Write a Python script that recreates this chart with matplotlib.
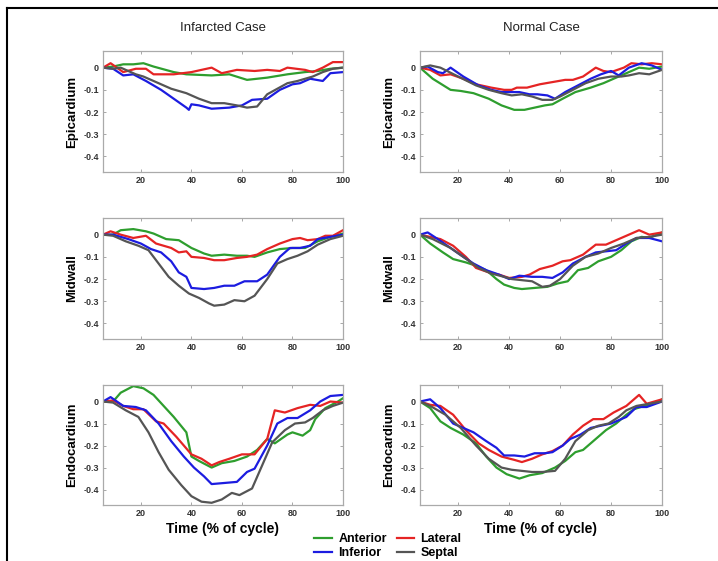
import matplotlib
matplotlib.use("Agg")
import matplotlib.pyplot as plt
from matplotlib.lines import Line2D

plt.rcParams['font.family'] = ['Liberation Sans', 'DejaVu Sans']

# region names and series
regions = ["Epicardium", "Midwall", "Endocardium"]
segments = ["Anterior", "Inferior", "Lateral", "Septal"]
colors = {"Anterior": "#2e9e2e", "Inferior": "#1c1ce0", "Lateral": "#e52424", "Septal": "#555555"}

# ---- Infarcted case ----
epi_inf = {
    "Anterior": ([5, 9, 13, 17, 21, 25, 33, 38, 48, 55, 62, 70, 78, 85, 90, 95, 100],
                 [0, 0.005, 0.015, 0.015, 0.02, 0.005, -0.02, -0.03, -0.035, -0.03, -0.055, -0.045, -0.03, -0.02, -0.015, -0.005, 0.0]),
    "Lateral": ([5, 8, 13, 18, 22, 25, 33, 40, 48, 52, 58, 65, 70, 75, 78, 85, 88, 92, 96, 100],
                [0, 0.02, -0.02, -0.005, -0.005, -0.03, -0.03, -0.02, 0.0, -0.025, -0.01, -0.015, -0.01, -0.015, 0.0, -0.01, -0.02, 0.0, 0.025, 0.025]),
    "Inferior": ([5, 9, 13, 17, 22, 28, 33, 38, 39, 40, 43, 48, 55, 60, 64, 70, 75, 80, 83, 87, 92, 95, 100],
                 [0, -0.005, -0.035, -0.03, -0.06, -0.1, -0.14, -0.18, -0.19, -0.165, -0.17, -0.185, -0.18, -0.17, -0.145, -0.14, -0.1, -0.075, -0.07, -0.05, -0.06, -0.025, -0.02]),
    "Septal": ([5, 9, 12, 18, 21, 27, 32, 38, 43, 48, 53, 58, 62, 66, 70, 78, 82, 88, 92, 96, 100],
               [0, -0.005, 0.0, -0.03, -0.04, -0.07, -0.095, -0.115, -0.14, -0.16, -0.16, -0.17, -0.18, -0.175, -0.12, -0.07, -0.06, -0.04, -0.02, -0.005, 0.0]),
}
mid_inf = {
    "Anterior": ([5, 9, 12, 17, 22, 25, 30, 35, 40, 45, 48, 53, 58, 62, 65, 70, 75, 80, 85, 90, 95, 100],
                 [0, 0.0, 0.02, 0.025, 0.015, 0.005, -0.02, -0.025, -0.06, -0.085, -0.095, -0.09, -0.095, -0.095, -0.1, -0.08, -0.065, -0.06, -0.06, -0.03, -0.01, 0.005]),
    "Lateral": ([5, 8, 12, 17, 22, 26, 32, 35, 38, 40, 45, 49, 53, 58, 62, 66, 70, 75, 80, 83, 86, 90, 93, 96, 100],
                [0, 0.015, 0.0, -0.015, -0.005, -0.04, -0.06, -0.08, -0.075, -0.1, -0.105, -0.115, -0.115, -0.105, -0.1, -0.09, -0.065, -0.04, -0.02, -0.015, -0.025, -0.02, -0.005, -0.005, 0.02]),
    "Inferior": ([5, 9, 15, 20, 24, 28, 32, 35, 38, 40, 45, 49, 53, 57, 61, 66, 70, 75, 79, 83, 87, 90, 95, 100],
                 [0, 0.0, -0.02, -0.04, -0.065, -0.08, -0.12, -0.17, -0.19, -0.24, -0.245, -0.24, -0.23, -0.23, -0.21, -0.21, -0.18, -0.1, -0.06, -0.06, -0.05, -0.02, -0.01, 0.0]),
    "Septal": ([5, 9, 14, 19, 23, 27, 31, 35, 39, 43, 47, 49, 53, 57, 61, 65, 70, 74, 78, 82, 86, 90, 95, 100],
               [0, -0.005, -0.03, -0.05, -0.07, -0.13, -0.19, -0.23, -0.265, -0.285, -0.31, -0.32, -0.315, -0.295, -0.3, -0.275, -0.2, -0.13, -0.11, -0.095, -0.075, -0.045, -0.02, -0.005]),
}
endo_inf = {
    "Anterior": ([5, 9, 12, 17, 21, 25, 29, 33, 38, 40, 43, 48, 52, 57, 62, 66, 70, 73, 78, 80, 84, 87, 89, 93, 98, 100],
                 [0, 0.0, 0.04, 0.07, 0.06, 0.03, -0.02, -0.07, -0.14, -0.25, -0.27, -0.3, -0.28, -0.27, -0.25, -0.22, -0.17, -0.19, -0.15, -0.14, -0.155, -0.13, -0.08, -0.03, 0.0, 0.015]),
    "Lateral": ([5, 9, 13, 17, 21, 26, 29, 34, 40, 44, 48, 51, 55, 60, 65, 70, 73, 77, 82, 87, 91, 95, 100],
                [0, 0.005, -0.02, -0.035, -0.035, -0.09, -0.1, -0.16, -0.24, -0.26, -0.29, -0.275, -0.26, -0.24, -0.24, -0.17, -0.04, -0.05, -0.03, -0.015, -0.02, 0.0, -0.005]),
    "Inferior": ([5, 8, 13, 18, 22, 27, 32, 37, 41, 45, 48, 53, 58, 62, 65, 70, 74, 78, 82, 87, 91, 95, 100],
                 [0, 0.02, -0.02, -0.025, -0.04, -0.1, -0.18, -0.25, -0.3, -0.34, -0.375, -0.37, -0.365, -0.32, -0.305, -0.2, -0.1, -0.075, -0.075, -0.04, 0.0, 0.025, 0.03]),
    "Septal": ([5, 9, 14, 19, 23, 27, 31, 36, 40, 44, 48, 52, 56, 59, 64, 68, 72, 77, 81, 85, 88, 92, 96, 100],
               [0, -0.005, -0.04, -0.07, -0.14, -0.23, -0.31, -0.38, -0.43, -0.455, -0.46, -0.445, -0.415, -0.425, -0.395, -0.29, -0.185, -0.13, -0.1, -0.095, -0.075, -0.04, -0.02, -0.005]),
}

# ---- Normal case ----
epi_norm = {
    "Anterior": ([5, 10, 17, 21, 26, 32, 37, 42, 46, 50, 54, 57, 61, 66, 72, 77, 83, 88, 91, 95, 100],
                 [0, -0.05, -0.1, -0.105, -0.115, -0.14, -0.17, -0.19, -0.19, -0.18, -0.17, -0.165, -0.14, -0.11, -0.09, -0.07, -0.04, -0.015, 0.0, -0.005, 0.005]),
    "Lateral": ([5, 9, 13, 17, 22, 27, 33, 38, 41, 43, 47, 52, 57, 62, 65, 69, 74, 77, 80, 85, 88, 92, 96, 100],
                [0, -0.01, -0.035, -0.03, -0.05, -0.075, -0.09, -0.1, -0.1, -0.09, -0.09, -0.075, -0.065, -0.055, -0.055, -0.04, 0.0, -0.015, -0.02, 0.0, 0.02, 0.015, 0.02, 0.015]),
    "Inferior": ([5, 8, 12, 14, 17, 22, 28, 33, 37, 41, 44, 48, 51, 55, 58, 62, 67, 72, 76, 80, 83, 87, 92, 96, 100],
                 [0, 0.005, -0.02, -0.025, 0.0, -0.04, -0.08, -0.1, -0.11, -0.11, -0.11, -0.12, -0.12, -0.125, -0.14, -0.11, -0.08, -0.05, -0.03, -0.015, -0.035, 0.0, 0.02, 0.01, -0.01]),
    "Septal": ([5, 9, 13, 20, 27, 32, 37, 41, 45, 49, 53, 57, 60, 65, 70, 75, 80, 84, 87, 91, 95, 100],
               [0, 0.01, 0.0, -0.04, -0.08, -0.1, -0.115, -0.125, -0.12, -0.13, -0.145, -0.145, -0.13, -0.1, -0.07, -0.05, -0.04, -0.04, -0.035, -0.025, -0.03, -0.01]),
}
mid_norm = {
    "Anterior": ([5, 9, 14, 18, 23, 27, 31, 35, 38, 42, 45, 50, 55, 59, 63, 67, 71, 75, 80, 84, 88, 92, 95, 100],
                 [0, -0.04, -0.08, -0.11, -0.125, -0.14, -0.16, -0.2, -0.225, -0.24, -0.245, -0.24, -0.235, -0.22, -0.21, -0.16, -0.15, -0.12, -0.1, -0.07, -0.03, -0.01, -0.015, 0.01]),
    "Lateral": ([5, 9, 13, 18, 23, 27, 32, 36, 40, 45, 48, 52, 57, 61, 64, 69, 74, 78, 83, 88, 91, 95, 100],
                [0, -0.01, -0.02, -0.05, -0.1, -0.15, -0.17, -0.18, -0.195, -0.19, -0.18, -0.155, -0.14, -0.12, -0.115, -0.09, -0.045, -0.045, -0.02, 0.005, 0.02, 0.0, 0.01]),
    "Inferior": ([5, 8, 12, 17, 22, 26, 31, 36, 40, 44, 49, 53, 57, 61, 65, 70, 74, 78, 82, 86, 90, 95, 100],
                 [0, 0.01, -0.02, -0.06, -0.1, -0.13, -0.16, -0.18, -0.2, -0.185, -0.19, -0.19, -0.195, -0.17, -0.13, -0.1, -0.08, -0.075, -0.07, -0.04, -0.015, -0.015, -0.03]),
    "Septal": ([5, 10, 17, 22, 28, 33, 38, 41, 45, 49, 53, 56, 60, 65, 70, 75, 80, 85, 90, 95, 100],
               [0, -0.02, -0.06, -0.1, -0.15, -0.175, -0.19, -0.2, -0.205, -0.21, -0.235, -0.23, -0.2, -0.14, -0.1, -0.085, -0.06, -0.04, -0.015, -0.01, 0.0]),
}
endo_norm = {
    "Anterior": ([5, 9, 13, 17, 22, 27, 31, 35, 39, 44, 48, 53, 58, 62, 66, 69, 73, 78, 82, 86, 89, 93, 98, 100],
                 [0, -0.03, -0.09, -0.12, -0.15, -0.19, -0.25, -0.3, -0.33, -0.35, -0.335, -0.325, -0.3, -0.27, -0.23, -0.22, -0.18, -0.13, -0.1, -0.06, -0.035, -0.02, -0.005, 0.01]),
    "Lateral": ([5, 9, 13, 18, 23, 28, 32, 37, 42, 45, 49, 53, 57, 61, 65, 69, 73, 77, 81, 86, 88, 91, 94, 100],
                [0, -0.015, -0.02, -0.06, -0.13, -0.19, -0.22, -0.25, -0.265, -0.275, -0.26, -0.24, -0.225, -0.2, -0.15, -0.11, -0.08, -0.08, -0.05, -0.02, 0.0, 0.03, -0.01, 0.01]),
    "Inferior": ([5, 9, 13, 18, 22, 26, 31, 35, 38, 42, 46, 50, 54, 57, 61, 64, 68, 72, 76, 80, 84, 86, 90, 94, 100],
                 [0, 0.01, -0.03, -0.1, -0.12, -0.14, -0.18, -0.21, -0.245, -0.245, -0.25, -0.235, -0.235, -0.23, -0.2, -0.17, -0.15, -0.12, -0.11, -0.1, -0.08, -0.07, -0.025, -0.025, 0.0]),
    "Septal": ([5, 9, 15, 21, 27, 32, 37, 41, 45, 49, 53, 58, 62, 66, 71, 75, 79, 83, 86, 90, 95, 100],
               [0, -0.02, -0.06, -0.12, -0.2, -0.26, -0.3, -0.31, -0.315, -0.32, -0.32, -0.315, -0.26, -0.18, -0.13, -0.11, -0.1, -0.07, -0.04, -0.02, -0.01, 0.0]),
}

x_ticks = [20, 40, 60, 80, 100]
y_ticks = [0, -0.1, -0.2, -0.3, -0.4]
y_tick_labels = ["0", "-0.1", "-0.2", "-0.3", "-0.4"]
case_titles = ["Infarcted Case", "Normal Case"]

W, H = 718, 561
fig = plt.figure(figsize=(W / 100, H / 100), dpi=100)

# axes boxes in pixels: (left, right) per column, (top, bottom) per row
col_px = [(103, 343), (420, 662)]
row_px = [(51, 172), (218, 339), (385, 505)]

panels = [[epi_inf, epi_norm], [mid_inf, mid_norm], [endo_inf, endo_norm]]

for r, (top, bot) in enumerate(row_px):
    for c, (lft, rgt) in enumerate(col_px):
        ax = fig.add_axes([lft / W, 1 - bot / H, (rgt - lft) / W, (bot - top) / H])
        data = panels[r][c]
        for seg in ["Anterior", "Lateral", "Inferior", "Septal"]:
            xs, ys = data[seg]
            ax.plot(xs, ys, color=colors[seg], lw=1.6)
        ax.set_xlim(5, 100)
        ax.set_ylim(-0.47, 0.075)
        ax.set_xticks(x_ticks)
        ax.set_yticks(y_ticks)
        ax.set_yticklabels(y_tick_labels)
        ax.tick_params(direction="in", length=2.5, width=0.6, color="#999999",
                       labelsize=6.5, top=True, right=True, pad=3)
        for lab in ax.get_xticklabels() + ax.get_yticklabels():
            lab.set_fontweight("bold")
            lab.set_color("#333333")
        for sp in ax.spines.values():
            sp.set_color("#aaaaaa")
            sp.set_linewidth(0.9)
        ax.set_ylabel(regions[r], fontsize=9.5, fontweight="bold", labelpad=4)

# column titles and x labels
for c, (lft, rgt) in enumerate(col_px):
    xc = (lft + rgt) / 2 / W
    fig.text(xc, 1 - 28 / H, case_titles[c], ha="center", va="center", fontsize=9.5, color="#222222")
    fig.text(xc, 1 - 529 / H, "Time (% of cycle)", ha="center", va="center",
             fontsize=10, fontweight="bold")

# legend
handles = [Line2D([], [], color=colors[s], lw=1.6) for s in segments]
leg = fig.legend(handles, segments, ncol=2, loc="center",
                 bbox_to_anchor=(388 / W, 1 - 546 / H), frameon=False,
                 handlelength=1.4, handletextpad=0.5, columnspacing=0.8,
                 labelspacing=0.15, prop={"weight": "bold", "size": 9})

# frame lines on top and left
fig.add_artist(Line2D([7 / W, 1], [1 - 8 / H, 1 - 8 / H], color="black", lw=1.5))
fig.add_artist(Line2D([7 / W, 7 / W], [0, 1 - 8 / H], color="black", lw=1.5))

fig.savefig("out.png", dpi=100)
